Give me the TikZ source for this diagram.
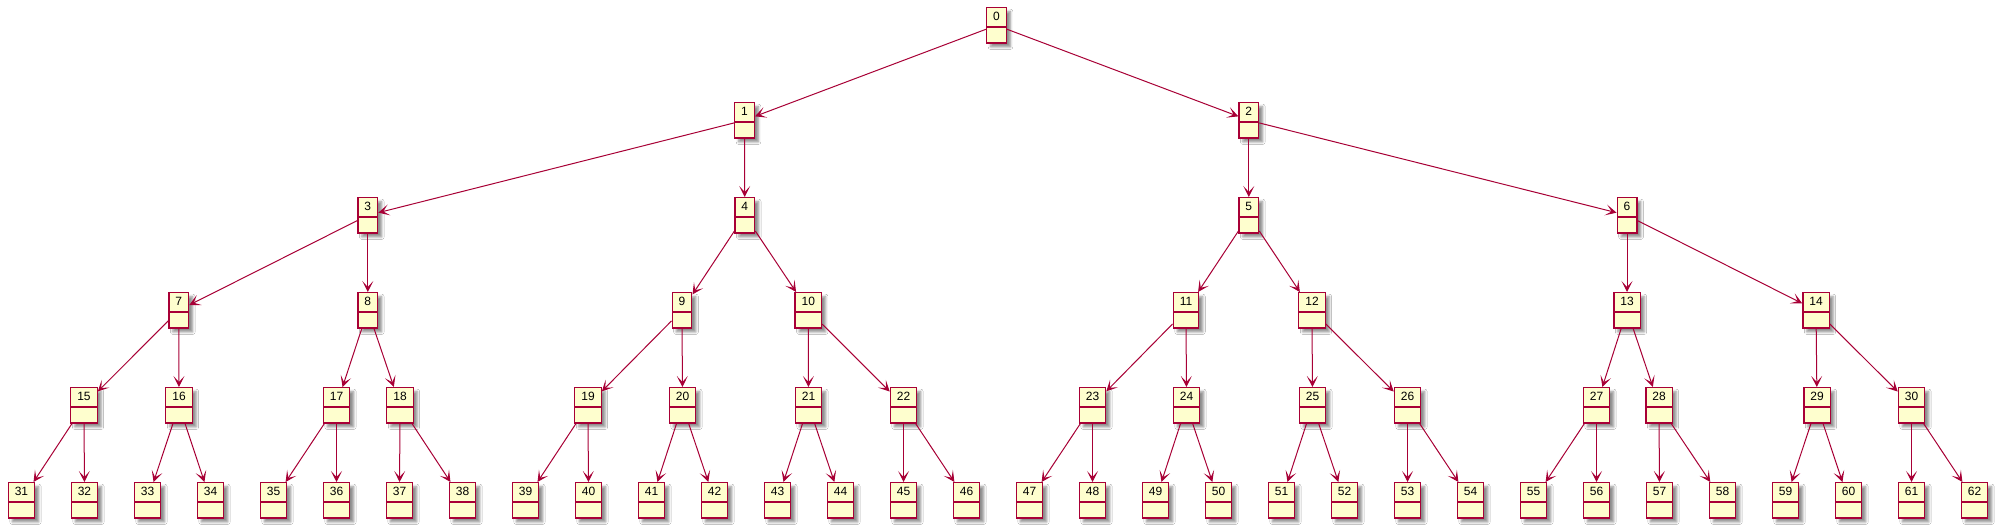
\documentclass[tikz,border=0pt]{standalone}
\usepackage{fontspec}
\setmainfont{Liberation Sans}
\usetikzlibrary{arrows.meta,shadows.blur}
\definecolor{umlred}{HTML}{A80036}
\definecolor{umlfill}{HTML}{FEFECE}
\tikzset{
  obj/.style={draw=umlred, fill=umlfill, line width=1.3pt, rectangle, anchor=north,
    inner xsep=6.5pt, inner ysep=0pt, text height=13.3pt, text depth=22pt,
    font=\fontsize{12}{14}\selectfont,
    blur shadow={shadow xshift=4pt, shadow yshift=-4pt, shadow blur radius=2.5pt, shadow opacity=45},
    path picture={\draw[umlred, line width=1.3pt]
      ([yshift=-19.3pt]path picture bounding box.north west) --
      ([yshift=-19.3pt]path picture bounding box.north east);}},
  edge/.style={draw=umlred, line width=1pt, -{Stealth[length=11pt,width=11pt,inset=6pt]}}
}
\begin{document}
\begin{tikzpicture}[x=1pt,y=-1pt]
\useasboundingbox (0,0) rectangle (2001,530);
\fill[white] (0,0) rectangle (2001,530);
% upper levels: name/x/level
\foreach \n/\x/\l in {
  0/996.5/0,
  1/744.5/1, 2/1248.8/1,
  3/367.8/2, 4/744.8/2, 5/1248.8/2, 6/1627/2,
  7/178.8/3, 8/367.8/3, 9/682/3, 10/808.3/3, 11/1186/3, 12/1312/3, 13/1627/3, 14/1816/3,
  15/84/4, 16/179/4, 17/336.5/4, 18/400/4, 19/588/4, 20/682.5/4, 21/808.5/4, 22/903.5/4,
  23/1092.5/4, 24/1186.5/4, 25/1312.5/4, 26/1407.5/4, 27/1596.5/4, 28/1659/4, 29/1817/4, 30/1911.5/4}
  {\node[obj] (n\n) at (\x, {7+95*\l}) {\n};}
% bottom level
\foreach \i in {0,...,31} {
  \pgfmathtruncatemacro\n{31+\i}
  \node[obj] (n\n) at ({21.5+63*\i}, 482) {\n};
}
% connectors
\foreach \c in {1,...,62} {
  \pgfmathtruncatemacro\p{(\c-1)/2}
  \draw[edge] (n\p) -- (n\c);
}
\end{tikzpicture}
\end{document}
